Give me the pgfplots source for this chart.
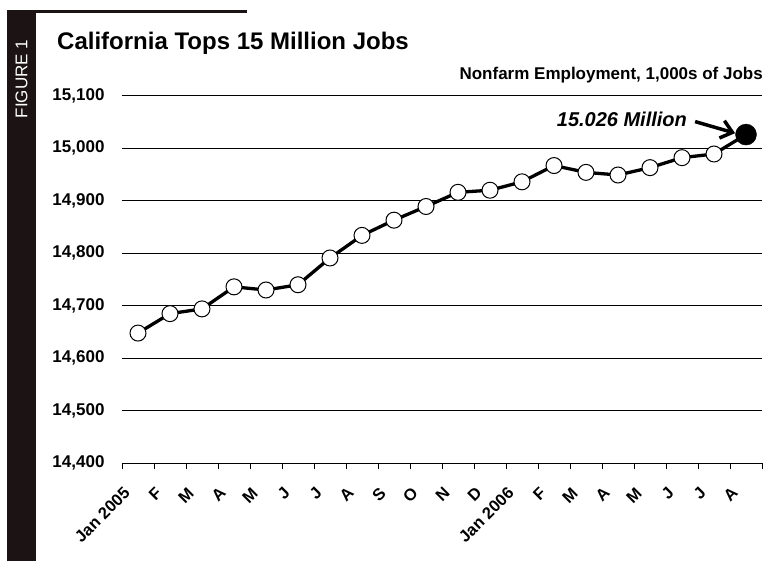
\documentclass[border=0pt]{standalone}
\usepackage{fontspec}
\setmainfont{Liberation Sans}
\usepackage{pgfplots}
\pgfplotsset{compat=1.18}
\usetikzlibrary{arrows.meta}
\definecolor{barcol}{RGB}{28,20,20}
\begin{document}
\begin{tikzpicture}[x=1pt,y=1pt]
\useasboundingbox (0,0) rectangle (767,561);
\fill[barcol] (7,0) rectangle (36,551);
\draw[line width=2.5pt, barcol] (36,549.5) -- (247,549.5);
\node[rotate=90, text=white, font=\fontsize{17}{17}\selectfont, inner sep=0] at (21.5,482) {FIGURE 1};
\node[anchor=base west, inner sep=0, font=\bfseries\fontsize{24}{24}\selectfont] at (57,511) {California Tops 15 Million Jobs};
\node[anchor=base east, inner sep=0, font=\bfseries\fontsize{17}{17}\selectfont] at (763,481) {Nonfarm Employment, 1,000s of Jobs};
\begin{axis}[
  at={(122pt,97.7pt)}, anchor=south west,
  scale only axis, width=640pt, height=367.6pt,
  xmin=-0.5, xmax=19.5, ymin=14400, ymax=15100,
  clip=false,
  axis x line=bottom, axis y line=left,
  x axis line style={-, line width=1pt, black},
  y axis line style={draw=none},
  ytick={14400,14500,...,15100},
  scaled y ticks=false,
  xtick={0,...,19},
  xticklabels={Jan 2005,F,M,A,M,J,J,A,S,O,N,D,Jan 2006,F,M,A,M,J,J,A},
  minor xtick={-0.5,0.5,...,19.5},
  tick align=outside,
  major tick length=0pt,
  minor tick length=6pt,
  minor tick style={black, line width=1pt},
  ymajorgrids, grid style={black, line width=1.1pt},
  /pgf/number format/.cd, 1000 sep={,}, assume math mode=true,
  /pgfplots/.cd,
  yticklabel style={font=\bfseries\fontsize{17}{17}\selectfont, xshift=-14pt},
  xticklabel style={font=\bfseries\fontsize{16.5}{16.5}\selectfont, anchor=east, inner sep=0pt, xshift=-11pt, yshift=-27pt, rotate=45},
]
\addplot[black, line width=3.3pt, mark=*, mark size=8pt, mark options={fill=white, draw=black, line width=1pt}] coordinates {
(0,14648) (1,14685) (2,14694) (3,14736) (4,14730) (5,14740) (6,14791) (7,14834) (8,14863) (9,14889)
(10,14916) (11,14920) (12,14936) (13,14967) (14,14954) (15,14949) (16,14963) (17,14982) (18,14989) (19,15026)
};
\addplot[only marks, mark=*, mark size=10.5pt, black] coordinates {(19,15026)};
\draw[line width=3.5pt, -{Straight Barb[length=11pt,width=18pt]}] (axis cs:17.41,15050.7) -- (axis cs:18.66,15028.6);
\node[anchor=base east, inner sep=0, font=\bfseries\itshape\fontsize{20}{20}\selectfont] at (axis cs:17.16,15041) {15.026 Million};
\end{axis}
\end{tikzpicture}
\end{document}
